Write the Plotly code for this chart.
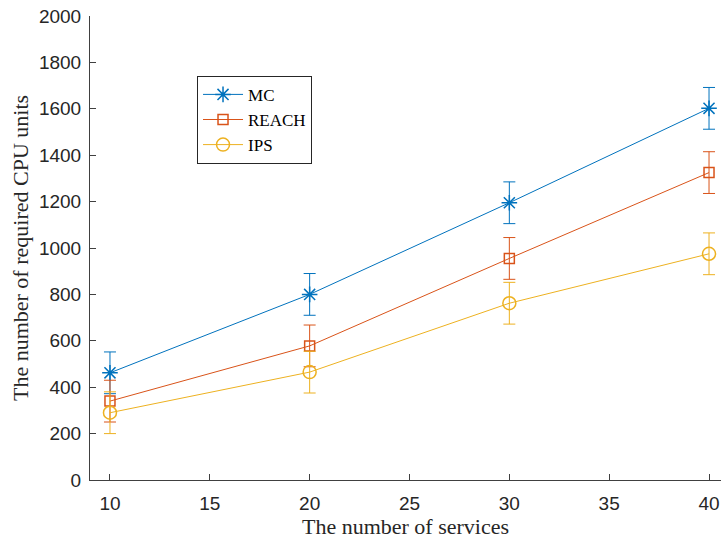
import plotly.graph_objects as go

services = [10, 20, 30, 40]
mc = [462, 800, 1195, 1602]
reach = [340, 578, 955, 1325]
ips = [290, 465, 762, 975]
mc_err = [90, 90, 90, 90]
reach_err = [90, 90, 90, 90]
ips_err = [90, 90, 90, 90]
x_ticks = [10, 15, 20, 25, 30, 35, 40]
y_ticks = [0, 200, 400, 600, 800, 1000, 1200, 1400, 1600, 1800, 2000]

series = [
    ("MC", mc, mc_err, "#0072BD", "asterisk-open", 13),
    ("REACH", reach, reach_err, "#D95319", "square-open", 10),
    ("IPS", ips, ips_err, "#EDB120", "circle-open", 13),
]

fig = go.Figure()
for name, vals, err, col, sym, sz in series:
    fig.add_trace(go.Scatter(
        x=services, y=vals, name=name, mode="lines+markers",
        line=dict(color=col, width=1),
        marker=dict(symbol=sym, size=sz, color=col, line=dict(color=col, width=1.5)),
        error_y=dict(type="data", array=err, visible=True, color=col, thickness=1, width=6),
    ))

axis_common = dict(
    showgrid=False, zeroline=False, showline=True, linecolor="#404040", linewidth=1,
    ticks="inside", ticklen=6, tickcolor="#404040", automargin=False,
    tickfont=dict(family="Liberation Sans, Arial", size=19, color="#262626"),
)
title_font = dict(family="Liberation Serif, Times New Roman", size=22, color="#262626")
fig.update_layout(
    width=721, height=543,
    margin=dict(l=90, r=0, t=16, b=63),
    plot_bgcolor="white", paper_bgcolor="white",
    xaxis=dict(range=[9, 40.6], tickvals=x_ticks, ticklabelstandoff=6,
               title=dict(text="The number of services", standoff=0, font=title_font),
               **axis_common),
    yaxis=dict(range=[0, 2000], tickvals=y_ticks, ticklabelstandoff=4,
               title=dict(text="The number of required CPU units", standoff=4, font=title_font),
               **axis_common),
    legend=dict(x=0.1696, y=0.871, xanchor="left", yanchor="top",
                bgcolor="white", bordercolor="#262626", borderwidth=1,
                font=dict(family="Liberation Serif, Times New Roman", size=17, color="#000000"),
                tracegroupgap=0, itemwidth=40),
    showlegend=True,
)
fig.write_html("out.html", config={"displayModeBar": False},
               post_script="document.body.style.margin='0px';")
